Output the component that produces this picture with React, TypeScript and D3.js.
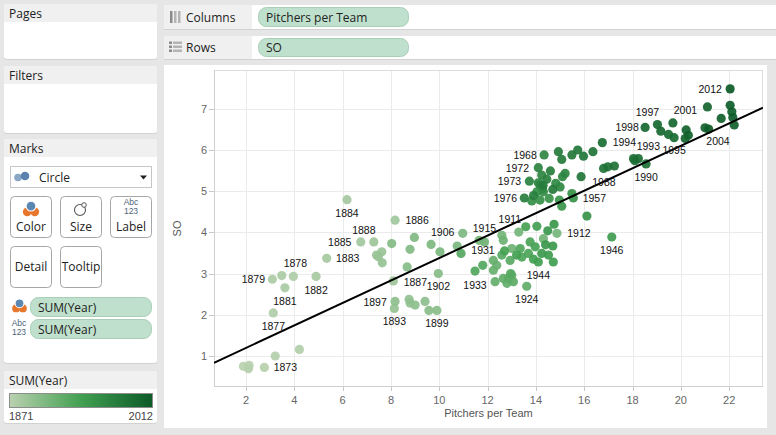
import React from 'react';
import * as d3 from 'd3';

// ---------------- DATA ----------------
const years: number[] = d3.range(1871, 2013);

const pitchersPerTeam: number[] = [
  1.89, 2.13, 2.76, 2.10, 3.21, 4.21, 3.13, 3.96, 3.09, 3.48, // 1871-1880
  3.61, 4.90, 5.34, 6.18, 6.75, 8.17, 8.10, 7.29, 7.40, 7.62, // 1881-1890
  7.48, 7.64, 8.14, 8.75, 8.79, 9.00, 8.17, 9.41, 9.90, 9.57, // 1891-1900
  8.67, 9.96, 8.03, 8.79, 8.97, 10.97, 9.66, 10.03, 10.74, 11.65, // 1901-1910
  12.59, 14.87, 13.29, 14.31, 11.87, 12.65, 13.00, 12.38, 12.24, 12.24, // 1911-1920
  12.31, 12.80, 12.65, 13.62, 12.86, 13.00, 13.07, 12.93, 12.59, 12.95, // 1921-1930
  10.90, 11.80, 11.48, 13.35, 13.42, 13.69, 13.76, 13.97, 12.70, 13.58, // 1931-1940
  14.04, 13.20, 13.90, 14.10, 14.72, 17.14, 14.52, 14.24, 14.70, 14.49, // 1941-1950
  14.75, 14.40, 15.07, 14.97, 14.55, 16.11, 15.55, 15.49, 14.17, 13.83, // 1951-1960
  14.04, 14.31, 14.17, 14.27, 14.82, 15.00, 15.10, 14.34, 15.21, 14.24, // 1961-1970
  14.10, 14.10, 13.73, 14.45, 13.90, 13.52, 14.60, 14.30, 14.93, 14.70, // 1971-1980
  15.07, 15.49, 15.73, 15.97, 15.87, 16.36, 16.80, 16.98, 17.25, 18.56, // 1981-1990
  18.10, 18.04, 18.24, 16.75, 19.72, 19.49, 19.03, 18.52, 19.17, 19.67, // 1991-2000
  21.10, 20.18, 20.31, 21.00, 20.22, 21.67, 22.21, 22.11, 22.04, 21.15, // 2001-2010
  22.15, 22.04, // 2011-2012
];

const strikeouts: number[] = [
  0.74, 0.76, 0.71, 0.68, 0.99, 1.15, 2.04, 2.93, 2.86, 2.95, // 1871-1880
  2.65, 2.93, 3.37, 4.80, 3.77, 4.30, 2.82, 3.77, 3.45, 3.53, // 1881-1890
  3.41, 3.26, 2.15, 2.37, 2.28, 2.23, 2.32, 2.32, 2.10, 2.10, // 1891-1900
  3.16, 3.00, 3.73, 3.59, 3.88, 3.98, 3.71, 3.53, 3.67, 3.81, // 1901-1910
  3.93, 3.98, 4.01, 3.85, 3.77, 3.81, 3.61, 3.20, 3.08, 3.32, // 1911-1920
  2.80, 2.76, 2.88, 2.69, 2.88, 2.96, 2.80, 3.32, 3.45, 3.00, // 1921-1930
  3.49, 3.20, 3.06, 3.61, 3.40, 3.49, 3.77, 3.65, 3.55, 4.14, // 1931-1940
  4.15, 3.45, 3.35, 3.28, 3.28, 3.89, 3.45, 3.49, 3.67, 4.04, // 1941-1950
  4.20, 3.70, 4.64, 4.79, 4.83, 4.40, 4.84, 4.95, 4.79, 4.77, // 1951-1960
  4.99, 4.99, 5.15, 5.07, 5.20, 5.11, 5.36, 5.89, 5.44, 5.40, // 1961-1970
  5.21, 5.58, 5.25, 5.30, 4.90, 4.84, 5.50, 5.15, 5.97, 5.05, // 1971-1980
  5.78, 5.89, 6.01, 5.86, 5.36, 5.97, 5.56, 5.60, 5.62, 5.67, // 1981-1990
  5.75, 5.80, 5.80, 6.19, 6.31, 6.39, 6.63, 6.56, 6.47, 6.67, // 1991-2000
  7.06, 6.29, 6.37, 6.55, 6.50, 6.78, 6.62, 6.94, 7.10, 6.52, // 2001-2010
  6.80, 7.50, // 2011-2012
];

const labeledYears: number[] = [
  1873, 1877, 1878, 1879, 1881, 1882, 1883, 1884, 1885, 1886, 1887, 1888,
  1893, 1897, 1899, 1902, 1906, 1911, 1912, 1915, 1924, 1931, 1933, 1944,
  1946, 1957, 1968, 1972, 1973, 1976, 1988, 1990, 1993, 1994, 1995, 1997,
  1998, 2001, 2004, 2012,
];

const xTicks: number[] = [2, 4, 6, 8, 10, 12, 14, 16, 18, 20, 22];
const yTicks: number[] = [1, 2, 3, 4, 5, 6, 7];
const xDomain: [number, number] = [0.675, 23.4];
const yDomain: [number, number] = [0.234, 7.96];

// linear trend line
const trendIntercept = 0.64;
const trendSlope = 0.2737;

const legendYears: number[] = [1871, 1941.5, 2012];
const legendColors: string[] = ['#bad1b0', '#42a051', '#0c5a28'];

// label placement (label centre relative to the mark, px)
const labelOffsets: Record<number, [number, number]> = {
  1873: [21, 0], 1877: [0, 13], 1878: [2, -13], 1879: [-19, 0], 1881: [0, 13],
  1882: [0, 14], 1883: [21, 0], 1884: [0, 14], 1885: [-21, 0], 1886: [22, 0],
  1887: [22, 1], 1888: [-10, -12], 1893: [0, 13], 1897: [-20, 1], 1899: [0, 13],
  1902: [0, 13], 1906: [-20, -1], 1911: [8, -16], 1912: [22, 0], 1915: [0, -14],
  1924: [0, 13], 1931: [22, -3], 1933: [0, 14], 1944: [0, 13], 1946: [0, 13],
  1957: [21, 0], 1968: [-19, 0], 1972: [-21, 1], 1973: [-20, 0], 1976: [-19, 0],
  1988: [-4, 15], 1990: [0, 13], 1993: [10, -12], 1994: [22, 0], 1995: [0, 13],
  1997: [-10, -12], 1998: [-18, 0], 2001: [-22, 3], 2004: [13, 13], 2012: [-20, 0],
};

// ---------------- STYLE ----------------
const UI_FONT = '"Open Sans", "Noto Sans", sans-serif';
const CHART_FONT = '"Liberation Sans", Arial, sans-serif';
const BG = '#e6e6e6';
const HEADER = '#f0f0f0';
const PILL = '#bfe0cc';
const PILL_STROKE = '#a9cfb7';

function Card({ x, y, w, h, title, headerH = 18 }: { x: number; y: number; w: number; h: number; title: string; headerH?: number }) {
  return (
    <g>
      <rect x={x} y={y + 1} width={w} height={h} rx={3} fill="#d2d2d2" />
      <rect x={x} y={y} width={w} height={h} rx={3} fill="#ffffff" />
      <path d={`M${x},${y + headerH} V${y + 3} Q${x},${y} ${x + 3},${y} H${x + w - 3} Q${x + w},${y} ${x + w},${y + 3} V${y + headerH} Z`} fill={HEADER} />
      <text x={x + 5} y={y + headerH / 2 + 4.5} fontFamily={UI_FONT} fontSize={12} fill="#222">{title}</text>
    </g>
  );
}

function ColorIcon({ cx, cy, s = 1 }: { cx: number; cy: number; s?: number }) {
  return (
    <g transform={`translate(${cx},${cy}) scale(${s})`}>
      <circle cx={-4} cy={4} r={4.6} fill="#e8772e" />
      <circle cx={4} cy={4} r={4.6} fill="#e8772e" />
      <circle cx={0} cy={-2} r={5.2} fill="#5b87b3" stroke="#ffffff" strokeWidth={1.2} />
    </g>
  );
}

function AbcIcon({ cx, cy }: { cx: number; cy: number }) {
  return (
    <g fontFamily={CHART_FONT} fill="#4f6478" textAnchor="middle">
      <text x={cx} y={cy - 1} fontSize={8.5}>Abc</text>
      <text x={cx} y={cy + 7.5} fontSize={8.5}>123</text>
    </g>
  );
}

function MarkButton({ x, y, label, children, center = false }: { x: number; y: number; label: string; children?: React.ReactNode; center?: boolean }) {
  return (
    <g>
      <rect x={x + 0.5} y={y + 0.5} width={41} height={41} rx={4} fill="#ffffff" stroke="#a6a6a6" />
      {children}
      <text x={x + 21} y={center ? y + 25 : y + 34.5} textAnchor="middle" fontFamily={UI_FONT} fontSize={12} fill="#222">{label}</text>
    </g>
  );
}

export default function App() {
  const plot = { left: 214, top: 70, right: 763, bottom: 387 };
  const x = d3.scaleLinear().domain(xDomain).range([plot.left, plot.right]);
  const y = d3.scaleLinear().domain(yDomain).range([plot.bottom, plot.top]);
  const color = d3.scaleLinear<string>().domain(legendYears).range(legendColors).interpolate(d3.interpolateRgb);

  const points = years.map((yr, i) => ({ year: yr, px: pitchersPerTeam[i], so: strikeouts[i] }));
  const trendLine = d3.line<number>()
    .x((d) => x(d))
    .y((d) => y(trendIntercept + trendSlope * d));

  const legendX0 = 9, legendX1 = 153;

  return (
    <svg width={776} height={435} style={{ position: 'absolute', left: 0, top: 0, display: 'block' }}>
      <defs>
        <linearGradient id="legendGrad" x1="0" x2="1" y1="0" y2="0">
          {legendYears.map((yr, i) => (
            <stop key={i} offset={(yr - legendYears[0]) / (legendYears[legendYears.length - 1] - legendYears[0])} stopColor={legendColors[i]} />
          ))}
        </linearGradient>
        <clipPath id="plotClip">
          <rect x={plot.left} y={plot.top} width={plot.right - plot.left} height={plot.bottom - plot.top} />
        </clipPath>
      </defs>
      <rect x={0} y={0} width={776} height={435} fill={BG} />

      {/* Left side cards */}
      <Card x={4} y={4} w={153} h={55} title="Pages" />
      <Card x={4} y={66} w={153} h={67} title="Filters" />
      <Card x={4} y={139} w={153} h={224} title="Marks" />
      <Card x={4} y={371} w={153} h={52} title="SUM(Year)" />

      {/* Marks type dropdown */}
      <rect x={10.5} y={166.5} width={141} height={21} fill="#ffffff" stroke="#c6c6c6" />
      <circle cx={18} cy={177.5} r={3.8} fill="#8aa7c6" />
      <circle cx={25} cy={176} r={4.3} fill="#5a82ad" />
      <text x={39} y={181.5} fontFamily={UI_FONT} fontSize={12} fill="#222">Circle</text>
      <path d="M140,175.5 h7 l-3.5,4 z" fill="#222" />

      {/* Marks buttons */}
      <MarkButton x={10} y={196} label="Color">
        <ColorIcon cx={31} cy={208} s={0.95} />
      </MarkButton>
      <MarkButton x={60} y={196} label="Size">
        <circle cx={80} cy={210} r={5.5} fill="none" stroke="#555" strokeWidth={1.1} />
        <circle cx={84} cy={205} r={2.3} fill="#ffffff" stroke="#555" strokeWidth={1} />
      </MarkButton>
      <MarkButton x={110} y={196} label="Label">
        <AbcIcon cx={131} cy={206} />
      </MarkButton>
      <MarkButton x={10} y={246} label="Detail" center />
      <MarkButton x={60} y={246} label="Tooltip" center />

      {/* Marks pills */}
      <ColorIcon cx={19.5} cy={305} s={0.85} />
      <rect x={30.5} y={297.5} width={121} height={19} rx={8} fill={PILL} stroke={PILL_STROKE} />
      <text x={38} y={311.5} fontFamily={UI_FONT} fontSize={12} fill="#222">SUM(Year)</text>
      <AbcIcon cx={19} cy={327} />
      <rect x={30.5} y={319.5} width={121} height={19} rx={8} fill={PILL} stroke={PILL_STROKE} />
      <text x={38} y={333.5} fontFamily={UI_FONT} fontSize={12} fill="#222">SUM(Year)</text>

      {/* Color legend */}
      <rect x={legendX0 + 0.5} y={393.5} width={legendX1 - legendX0 - 1} height={14} fill="url(#legendGrad)" stroke="#8c8c8c" />
      <text x={legendX0} y={420} fontFamily={CHART_FONT} fontSize={11} fill="#444">{legendYears[0]}</text>
      <text x={legendX1} y={420} textAnchor="end" fontFamily={CHART_FONT} fontSize={11} fill="#444">{legendYears[legendYears.length - 1]}</text>

      {/* Shelves */}
      <rect x={164} y={6} width={612} height={24} fill="#d2d2d2" />
      <rect x={164} y={5} width={612} height={24} fill="#ffffff" />
      <rect x={164} y={5} width={88} height={24} fill={HEADER} />
      {[0, 1, 2].map((i) => (
        <rect key={i} x={170 + i * 4} y={11} width={2.5} height={12} fill={i === 0 ? '#8a8a8a' : '#b4b4b4'} />
      ))}
      <text x={186} y={21.5} fontFamily={UI_FONT} fontSize={12} fill="#222">Columns</text>
      <rect x={258.5} y={7.5} width={150} height={19} rx={8} fill={PILL} stroke={PILL_STROKE} />
      <text x={266} y={21.5} fontFamily={UI_FONT} fontSize={12} fill="#222">Pitchers per Team</text>

      <rect x={164} y={37} width={612} height={23} fill="#d2d2d2" />
      <rect x={164} y={36} width={612} height={23} fill="#ffffff" />
      <rect x={164} y={36} width={88} height={23} fill={HEADER} />
      {[0, 1, 2].map((i) => (
        <g key={i}>
          <rect x={169} y={41.5 + i * 4} width={3} height={2.5} fill="#8a8a8a" />
          <rect x={173} y={41.5 + i * 4} width={9} height={2.5} fill="#b4b4b4" />
        </g>
      ))}
      <text x={186} y={52} fontFamily={UI_FONT} fontSize={12} fill="#222">Rows</text>
      <rect x={258.5} y={38.5} width={150} height={18} rx={8} fill={PILL} stroke={PILL_STROKE} />
      <text x={266} y={52} fontFamily={UI_FONT} fontSize={12} fill="#222">SO</text>

      {/* Plot card */}
      <rect x={164} y={65} width={603} height={363} fill="#ffffff" />

      {/* Grid */}
      <g stroke="#ebebeb" strokeWidth={1}>
        {xTicks.map((t) => (
          <line key={`gx${t}`} x1={Math.round(x(t)) + 0.5} x2={Math.round(x(t)) + 0.5} y1={plot.top} y2={plot.bottom} />
        ))}
        {yTicks.map((t) => (
          <line key={`gy${t}`} x1={plot.left} x2={plot.right} y1={Math.round(y(t)) + 0.5} y2={Math.round(y(t)) + 0.5} />
        ))}
      </g>
      <rect x={plot.left + 0.5} y={plot.top + 0.5} width={plot.right - plot.left - 1} height={plot.bottom - plot.top - 1} fill="none" stroke="#dcdcdc" />
      <line x1={plot.left + 0.5} x2={plot.left + 0.5} y1={plot.top} y2={plot.bottom} stroke="#cfcfcf" />
      <line x1={plot.left} x2={plot.right} y1={plot.bottom - 0.5} y2={plot.bottom - 0.5} stroke="#cfcfcf" />

      {/* Axes ticks and labels */}
      <g fontFamily={CHART_FONT} fontSize={11} fill="#666">
        {yTicks.map((t) => (
          <g key={`yt${t}`}>
            <line x1={plot.left - 5} x2={plot.left} y1={Math.round(y(t)) + 0.5} y2={Math.round(y(t)) + 0.5} stroke="#c8c8c8" />
            <text x={plot.left - 7} y={y(t) + 4} textAnchor="end">{t}</text>
          </g>
        ))}
        {xTicks.map((t) => (
          <g key={`xt${t}`}>
            <line x1={Math.round(x(t)) + 0.5} x2={Math.round(x(t)) + 0.5} y1={plot.bottom} y2={plot.bottom + 4} stroke="#c8c8c8" />
            <text x={x(t)} y={plot.bottom + 17} textAnchor="middle">{t}</text>
          </g>
        ))}
        <text x={(plot.left + plot.right) / 2} y={417} textAnchor="middle" fill="#555">Pitchers per Team</text>
        <text transform={`translate(181,${(plot.top + plot.bottom) / 2}) rotate(-90)`} textAnchor="middle" fill="#555">SO</text>
      </g>

      {/* Marks */}
      <g clipPath="url(#plotClip)">
        {points.map((p) => (
          <circle key={p.year} cx={x(p.px)} cy={y(p.so)} r={4.6} fill={color(p.year)} fillOpacity={0.92} />
        ))}
        <path d={trendLine(xDomain as unknown as number[]) || ''} stroke="#000" strokeWidth={2} fill="none" />
      </g>

      {/* Mark labels */}
      <g fontFamily={CHART_FONT} fontSize={10.5} fill="#111" textAnchor="middle">
        {points.filter((p) => labeledYears.includes(p.year)).map((p) => {
          const off = labelOffsets[p.year] || [0, 13];
          return (
            <text key={`l${p.year}`} x={x(p.px) + off[0]} y={y(p.so) + off[1]} dy="0.36em">{p.year}</text>
          );
        })}
      </g>
    </svg>
  );
}
